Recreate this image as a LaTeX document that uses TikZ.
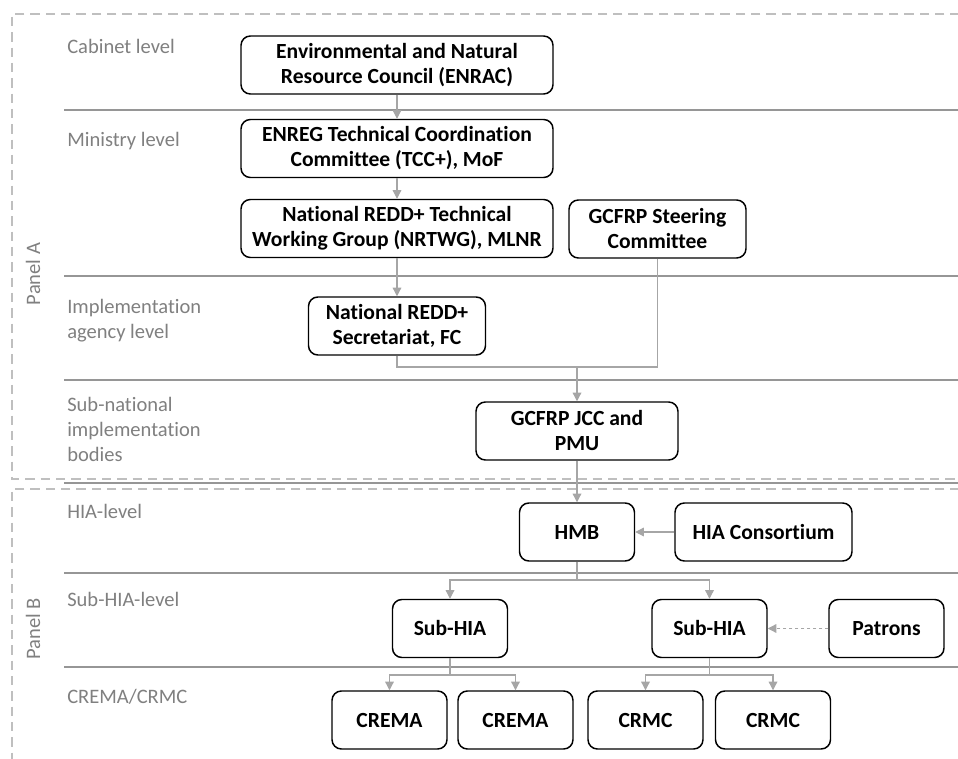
\documentclass[tikz,border=0pt]{standalone}
\usepackage{fontspec}
\setmainfont{Carlito}[Ligatures={NoCommon}]
\usetikzlibrary{arrows.meta}
\definecolor{lblgray}{RGB}{128,128,128}
\definecolor{sepgray}{RGB}{150,150,150}
\definecolor{dashgray}{RGB}{191,191,191}
\definecolor{congray}{RGB}{166,166,166}
\begin{document}
\begin{tikzpicture}[x=0.75pt,y=-0.75pt,
  box/.style={draw=black, line width=1.1pt, rounded corners=7pt, align=center,
    font=\fontsize{16.2}{18.75}\selectfont\bfseries, inner sep=0pt, minimum height=43.5pt},
  lvl/.style={anchor=base west, text=lblgray, font=\fontsize{15.4}{18.75}\selectfont, align=left, inner sep=0pt},
  paneltext/.style={rotate=90, text=lblgray, font=\fontsize{15.4}{18.75}\selectfont, inner sep=0pt},
  con/.style={draw=congray, line width=0.9pt},
  arr/.style={con, -{Triangle[length=6.5pt,width=6.5pt]}},
  dotarr/.style={arr, dash pattern=on 2.5pt off 2pt},
  sepline/.style={draw=sepgray, line width=1.2pt},
  panelbox/.style={draw=dashgray, line width=1.1pt, dash pattern=on 7pt off 4.5pt}]
\useasboundingbox (0,0) rectangle (958,759);
\fill[white] (0,0) rectangle (958,759);

% panel boxes
\draw[panelbox] (975,14) -- (12,14) -- (12,479) -- (975,479);
\draw[panelbox] (975,489) -- (12,489) -- (12,775);

% separators
\foreach \yy in {110,276,380,483,573,667}
  \draw[sepline] (64,\yy) -- (975,\yy);

% level labels (anchor = baseline of last line)
\node[lvl] (l1) at (67,54) {Cabinet level};
\node[lvl] (l2) at (67,147) {Ministry level};
\node[lvl] (l3) at (67,339) {Implementation\\agency level};
\node[lvl] (l4) at (67,462) {Sub-national\\implementation\\bodies};
\node[lvl] (l5) at (67,518) {HIA-level};
\node[lvl] (l6) at (67,606) {Sub-HIA-level};
\node[lvl] (l7) at (67,703) {CREMA/CRMC};
\node[paneltext] (pa) at (33,274) {Panel A};
\node[paneltext] (pb) at (33,629) {Panel B};

% boxes
\node[box, minimum width=234pt] (enrac) at (397,65) {Environmental and Natural\\Resource Council (ENRAC)};
\node[box, minimum width=234pt] (tcc) at (397,148.5) {ENREG Technical Coordination\\Committee (TCC+), MoF};
\node[box, minimum width=234pt] (nrtwg) at (397,228.5) {National REDD+ Technical\\Working Group (NRTWG), MLNR};
\node[box, minimum width=132.75pt] (steer) at (657.5,229) {GCFRP Steering\\Committee};
\node[box, minimum width=132.75pt] (nrs) at (397,326) {National REDD+\\Secretariat, FC};
\node[box, minimum width=151.5pt] (jcc) at (577,431) {GCFRP JCC and\\PMU};
\node[box, minimum width=86.25pt] (hmb) at (577,532) {HMB};
\node[box, minimum width=132.75pt] (hiac) at (763.5,532) {HIA Consortium};
\node[box, minimum width=86.25pt] (sub1) at (450,628.5) {Sub-HIA};
\node[box, minimum width=86.25pt] (sub2) at (709.5,628.5) {Sub-HIA};
\node[box, minimum width=86.25pt] (patrons) at (886.5,628.5) {Patrons};
\node[box, minimum width=86.25pt] (crema1) at (389.5,720) {CREMA};
\node[box, minimum width=86.25pt] (crema2) at (515.5,720) {CREMA};
\node[box, minimum width=86.25pt] (crmc1) at (645.5,720) {CRMC};
\node[box, minimum width=86.25pt] (crmc2) at (773,720) {CRMC};

% connectors
\draw[arr] (enrac) -- (tcc);
\draw[arr] (tcc) -- (nrtwg);
\draw[arr] (nrtwg) -- (nrs);
\coordinate (j1) at (577,367);
\draw[con] (nrs.south) |- (j1);
\draw[con] (steer.south) |- (j1);
\draw[arr] (j1) -- (jcc.north);
\draw[arr] (jcc) -- (hmb);
\draw[arr] (hiac) -- (hmb);
\coordinate (b1) at (577,580);
\draw[con] (hmb.south) -- (b1);
\draw[arr] (b1) -| (sub1.north);
\draw[arr] (b1) -| (sub2.north);
\draw[dotarr] (patrons) -- (sub2);
\coordinate (b2) at (450,675);
\draw[con] (sub1.south) -- (b2);
\draw[arr] (b2) -| (crema1.north);
\draw[arr] (b2) -| (crema2.north);
\coordinate (b3) at (709.5,675);
\draw[con] (sub2.south) -- (b3);
\draw[arr] (b3) -| (crmc1.north);
\draw[arr] (b3) -| (crmc2.north);
\end{tikzpicture}
\end{document}
